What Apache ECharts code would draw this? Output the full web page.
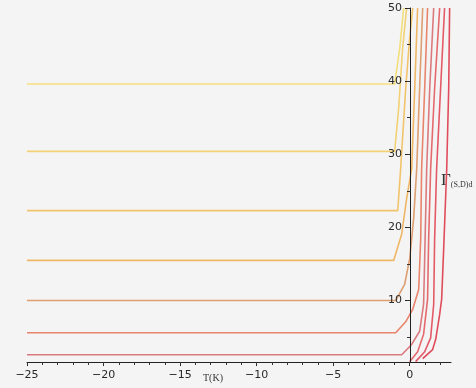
<!DOCTYPE html>
<html>
<head>
<meta charset="utf-8">
<script src="https://cdn.jsdelivr.net/npm/echarts@6/dist/echarts.min.js"></script>
<style>
  html, body { margin: 0; padding: 0; background: #f4f4f4; }
  #chart { width: 476px; height: 388px; }
</style>
</head>
<body>
<div id="chart"></div>
<script>
// 各曲线 [T, Γ]
const curveA = [[-25, 39.6], [-0.98, 39.6], [-0.65, 44.5], [-0.39, 50]];
const curveB = [[-25, 30.4], [-0.98, 30.4], [-0.72, 36.3], [-0.46, 44.5], [-0.2, 50]];
const curveC = [[-25, 22.3], [-0.78, 22.3], [-0.59, 28.0], [-0.26, 39.0], [0, 45.9], [0.2, 50]];
const curveD = [[-25, 15.5], [-1.04, 15.5], [-0.52, 19.1], [-0.2, 23.9], [0.13, 28.0], [0.33, 39.0], [0.52, 50]];
const curveE = [[-25, 10.0], [-0.91, 10.0], [-0.33, 12.2], [0, 15.7], [0.26, 21.2], [0.46, 28.0], [0.65, 39.0], [0.85, 50]];
const curveF = [[-25, 5.6], [-0.91, 5.6], [-0.26, 7.1], [0.2, 8.8], [0.59, 11.5], [0.72, 18.4], [0.78, 28.0], [0.98, 39.0], [1.17, 50]];
const curveG = [[-25, 2.6], [-0.52, 2.6], [0.13, 4.0], [0.65, 5.8], [0.91, 9.5], [0.98, 15.7], [1.11, 28.0], [1.31, 39.0], [1.57, 50]];
const curveH = [[0, 1.65], [0.52, 3.0], [0.91, 5.4], [1.17, 10.2], [1.24, 18.4], [1.37, 28.0], [1.63, 39.0], [1.96, 50]];
const curveI = [[0.39, 1.65], [0.98, 3.0], [1.37, 4.9], [1.57, 9.5], [1.63, 18.4], [1.76, 28.0], [2.02, 39.0], [2.28, 50]];
const curveJ = [[0.85, 2.06], [1.5, 3.3], [1.7, 4.7], [1.96, 8.1], [2.09, 10.2], [2.22, 17.0], [2.42, 28.0], [2.55, 39.0], [2.61, 50]];

const xLabels = [-25, -20, -15, -10, -5, 0];
const xMinorTicks = [-25, -24, -23, -22, -21, -20, -19, -18, -17, -16, -15, -14, -13, -12, -11, -10, -9, -8, -7, -6, -5, -4, -3, -2, -1, 0, 1, 2];
const yLabels = [10, 20, 30, 40, 50];
const yMinorTicks = [5, 10, 15, 20, 25, 30, 35, 40, 45, 50];

const curves = [curveA, curveB, curveC, curveD, curveE, curveF, curveG, curveH, curveI, curveJ];
const colors = ['#f3df7c', '#f2d274', '#f1c46c', '#efb765', '#dd9e72', '#e8846c', '#db7a7e', '#e56a6e', '#e35a66', '#e04c5c'];

const chart = echarts.init(document.getElementById('chart'));

const labelStyle = { color: '#2a2a2a', fontSize: 11, fontFamily: 'DejaVu Sans' };

chart.setOption({
    backgroundColor: '#f4f4f4',
    animation: false,
    // grid 0 画曲线，grid 1 只用来把纵轴放到 T=0 处
    grid: [
        { left: 27, right: 25, top: 8, bottom: 26 },
        { left: 410, right: 25, top: 8, bottom: 26 }
    ],
    xAxis: [
        {
            type: 'value', min: -25, max: 2.7, position: 'bottom',
            axisLine: { onZero: false, lineStyle: { color: '#222', width: 1 } },
            axisTick: { customValues: xLabels, length: 4, lineStyle: { color: '#222' } },
            axisLabel: Object.assign({ customValues: xLabels, margin: 8, formatter: v => String(v).replace('-', '−') }, labelStyle),
            splitLine: { show: false }
        },
        {
            type: 'value', min: -25, max: 2.7, position: 'bottom',
            axisLine: { show: false, onZero: false },
            axisTick: { customValues: xMinorTicks, length: 3, lineStyle: { color: '#333' } },
            axisLabel: { show: false },
            splitLine: { show: false }
        },
        {
            gridIndex: 1, type: 'value', min: 0, max: 2.7, show: false
        }
    ],
    yAxis: [
        {
            type: 'value', min: 1.6, max: 50, show: false
        },
        {
            gridIndex: 1, type: 'value', min: 1.6, max: 50, position: 'left', z: 5,
            axisLine: { onZero: false, lineStyle: { color: '#222', width: 1 } },
            axisTick: { customValues: yLabels, length: 5, lineStyle: { color: '#222' } },
            axisLabel: Object.assign({ customValues: yLabels, margin: 8 }, labelStyle),
            splitLine: { show: false }
        },
        {
            gridIndex: 1, type: 'value', min: 1.6, max: 50, position: 'left', z: 5,
            axisLine: { show: false, onZero: false },
            axisTick: { customValues: yMinorTicks, length: 3, lineStyle: { color: '#333' } },
            axisLabel: { show: false },
            splitLine: { show: false }
        }
    ],
    series: curves.map((c, i) => ({
        type: 'line',
        data: c,
        xAxisIndex: 0,
        yAxisIndex: 0,
        showSymbol: false,
        smooth: false,
        z: 1,
        lineStyle: { color: colors[i], width: 1.6 }
    })),
    graphic: [
        { type: 'text', left: 203, top: 373,
          style: { text: 'T(K)', fontSize: 10, fontFamily: 'Liberation Serif', fill: '#333' } },
        { type: 'text', left: 441, top: 172,
          style: { text: '{g|Γ}{s|(S,D)d}', fill: '#333',
                   rich: { g: { fontSize: 17, fontFamily: 'Liberation Serif', fill: '#333' },
                           s: { fontSize: 8, fontFamily: 'Liberation Serif', fill: '#333', padding: [8, 0, 0, 0] } } } }
    ]
});
</script>
</body>
</html>
